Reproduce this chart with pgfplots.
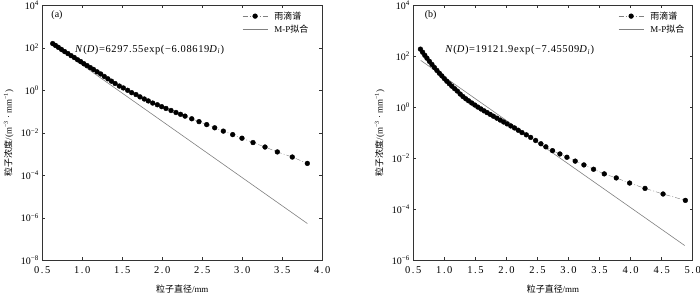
\documentclass[border=0pt]{standalone}
\usepackage{fontspec}
\setmainfont{Liberation Serif}
\newfontfamily\cjk{Noto Sans CJK SC}
\usepackage{pgfplots}
\pgfplotsset{compat=1.18}
\tikzset{
 datast/.style={color=gray, line width=0.4bp, dash pattern=on 5bp off 2bp on 1bp off 2bp, mark=*, mark size=2.4bp, mark options={solid, fill=black, draw=black}},
 fitst/.style={color=black!50, line width=0.6bp},
}
\begin{document}
\begin{tikzpicture}
\useasboundingbox (0bp,0bp) rectangle (700bp,294bp);
\begin{axis}[at={(42.3bp,33.7bp)}, anchor=south west,
  scale only axis, width=280bp, height=255bp, ymode=log,
  tick align=inside, major tick length=3bp,
  yminorticks=false, xminorticks=false,
  yticklabel style={font=\fontsize{10}{11}\selectfont},
  xticklabel style={font=\fontsize{10.5}{11}\selectfont\addfontfeature{LetterSpace=15}, yshift=-2.5bp},
  label style={font=\fontsize{9}{10}\selectfont},
  axis line style={line width=0.6bp, black!80},
  every tick/.style={black!80, line width=0.5bp},
  xlabel style={at={(axis description cs:0.5,-0.1137)},anchor=center},
  ylabel style={at={(axis description cs:-0.12,0.5)},anchor=center},
  legend style={draw=none, fill=none, font=\fontsize{9}{10}\selectfont, inner sep=0pt, nodes={inner sep=1.5bp}, row sep=1bp, anchor=north east, at={(axis description cs:0.956,0.982)}, /tikz/every odd column/.append style={column sep=5bp}},
  legend cell align=left,
  legend image code/.code={\draw[mark repeat=2,mark phase=2] plot coordinates {(0bp,0bp) (12.5bp,0bp) (25bp,0bp)};},
  xlabel={{\cjk 粒子直径}/mm},
  ylabel={{\cjk 粒子浓度}/(m\textsuperscript{−3} · mm\textsuperscript{−1})},
  xmin=0.5, xmax=4.0, ymin=1e-8, ymax=1e4,
  xtick={0.5,1.0,1.5,2.0,2.5,3.0,3.5,4.0},
  xticklabels={0.5,1.0,1.5,2.0,2.5,3.0,3.5,4.0},
  ytick={1e-8,1e-6,1e-4,1e-2,1,1e2,1e4},
  yticklabels={10\textsuperscript{−8},10\textsuperscript{−6},10\textsuperscript{−4},10\textsuperscript{−2},10\textsuperscript{0},10\textsuperscript{2},10\textsuperscript{4}}]
\addplot[datast] coordinates {(0.63,158) (0.665,129) (0.70,105) (0.74,83.2) (0.78,66.1) (0.82,53.7) (0.86,42.7) (0.90,34.7) (0.94,27.5) (0.98,22.4) (1.02,17.8) (1.06,14.5) (1.10,11.7) (1.14,9.55) (1.185,7.41) (1.23,5.89) (1.275,4.47) (1.32,3.47) (1.365,2.69) (1.41,2.09) (1.463,1.58) (1.513,1.29) (1.567,1.00) (1.617,0.776) (1.671,0.631) (1.721,0.490) (1.775,0.389) (1.825,0.316) (1.88,0.251) (1.938,0.209) (1.992,0.170) (2.046,0.140) (2.109,0.112) (2.171,0.0902) (2.228,0.0741) (2.284,0.0610) (2.368,0.0457) (2.459,0.0335) (2.555,0.0243) (2.655,0.0172) (2.763,0.0120) (2.880,0.00822) (2.996,0.00556) (3.134,0.00347) (3.284,0.00214) (3.438,0.00126) (3.625,7.24e-4) (3.813,3.63e-4)};
\addlegendentry{{\cjk 雨滴谱}}
\addplot[fitst, no marks] coordinates {(0.63,148) (3.813,5.4e-7)};
\addlegendentry{M-P{\cjk 拟合}}
\node[font=\fontsize{10}{11}\selectfont] at (axis cs:0.684,3390) {(a)};
\node[anchor=west,font=\fontsize{10.5}{11}\selectfont\addfontfeature{LetterSpace=6}] at (axis cs:0.8675,82) {\textit{N}(\textit{D})=6297.55exp(−6.08619\textit{D}\textsubscript{\textit{i}})};
\end{axis}
\begin{axis}[at={(413.3bp,33.7bp)}, anchor=south west,
  scale only axis, width=279.4bp, height=255bp, ymode=log,
  tick align=inside, major tick length=3bp,
  yminorticks=false, xminorticks=false,
  yticklabel style={font=\fontsize{10}{11}\selectfont},
  xticklabel style={font=\fontsize{10.5}{11}\selectfont\addfontfeature{LetterSpace=15}, yshift=-2.5bp},
  label style={font=\fontsize{9}{10}\selectfont},
  axis line style={line width=0.6bp, black!80},
  every tick/.style={black!80, line width=0.5bp},
  xlabel style={at={(axis description cs:0.5,-0.1137)},anchor=center},
  ylabel style={at={(axis description cs:-0.12,0.5)},anchor=center},
  legend style={draw=none, fill=none, font=\fontsize{9}{10}\selectfont, inner sep=0pt, nodes={inner sep=1.5bp}, row sep=1bp, anchor=north east, at={(axis description cs:0.976,0.982)}, /tikz/every odd column/.append style={column sep=5bp}},
  legend cell align=left,
  legend image code/.code={\draw[mark repeat=2,mark phase=2] plot coordinates {(0bp,0bp) (12.5bp,0bp) (25bp,0bp)};},
  xlabel={{\cjk 粒子直径}/mm},
  ylabel={{\cjk 粒子浓度}/(m\textsuperscript{−3} · mm\textsuperscript{−1})},
  xmin=0.5, xmax=5.0, ymin=1e-6, ymax=1e4,
  xtick={0.5,1.0,1.5,2.0,2.5,3.0,3.5,4.0,4.5,5.0},
  xticklabels={0.5,1.0,1.5,2.0,2.5,3.0,3.5,4.0,4.5,5.0},
  ytick={1e-6,1e-4,1e-2,1,1e2,1e4},
  yticklabels={10\textsuperscript{−6},10\textsuperscript{−4},10\textsuperscript{−2},10\textsuperscript{0},10\textsuperscript{2},10\textsuperscript{4}}]
\addplot[datast] coordinates {(0.615,191) (0.65,144.5) (0.685,109.6) (0.72,84.1) (0.76,63.1) (0.80,47.9) (0.84,36.3) (0.88,27.9) (0.92,21.6) (0.96,17.0) (1.00,13.3) (1.04,10.5) (1.08,8.41) (1.12,6.76) (1.165,5.37) (1.21,4.32) (1.255,3.31) (1.30,2.63) (1.345,2.16) (1.39,1.80) (1.44,1.48) (1.49,1.23) (1.54,1.02) (1.59,0.861) (1.64,0.724) (1.69,0.617) (1.74,0.525) (1.79,0.447) (1.845,0.376) (1.90,0.316) (1.955,0.266) (2.01,0.224) (2.07,0.186) (2.13,0.155) (2.19,0.126) (2.25,0.102) (2.32,0.0832) (2.39,0.0661) (2.47,0.0501) (2.555,0.0372) (2.635,0.0282) (2.742,0.0200) (2.861,0.0148) (2.974,0.0110) (3.108,0.00776) (3.248,0.00550) (3.403,0.00372) (3.576,0.00245) (3.769,0.00170) (3.984,0.00107) (4.232,6.61e-4) (4.523,3.98e-4) (4.882,2.24e-4)};
\addlegendentry{{\cjk 雨滴谱}}
\addplot[fitst, no marks] coordinates {(0.619,69.2) (4.871,3.80e-6)};
\addlegendentry{M-P{\cjk 拟合}}
\node[font=\fontsize{10}{11}\selectfont] at (axis cs:0.778,4060) {(b)};
\node[anchor=west,font=\fontsize{10.5}{11}\selectfont\addfontfeature{LetterSpace=6}] at (axis cs:0.958,172) {\textit{N}(\textit{D})=19121.9exp(−7.45509\textit{D}\textsubscript{\textit{i}})};
\end{axis}
\end{tikzpicture}
\end{document}
